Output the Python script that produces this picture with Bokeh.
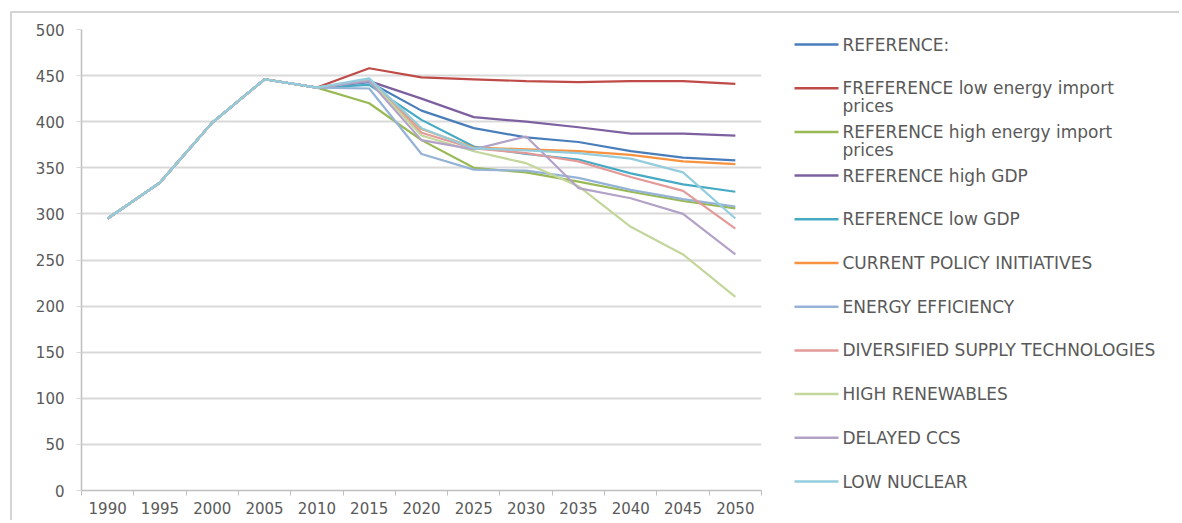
from bokeh.plotting import figure
from bokeh.models import Range1d, FixedTicker
from bokeh.layouts import row
from bokeh.embed import file_html
from bokeh.resources import INLINE
from bokeh.core.properties import value

# ---------------- data ----------------
years = [1990, 1995, 2000, 2005, 2010, 2015, 2020, 2025, 2030, 2035, 2040, 2045, 2050]
y_ticks = [0, 50, 100, 150, 200, 250, 300, 350, 400, 450, 500]

labels = [
    "REFERENCE:",
    "FREFERENCE low energy import\nprices",
    "REFERENCE high energy import\nprices",
    "REFERENCE high GDP",
    "REFERENCE low GDP",
    "CURRENT POLICY INITIATIVES",
    "ENERGY EFFICIENCY",
    "DIVERSIFIED SUPPLY TECHNOLOGIES",
    "HIGH RENEWABLES",
    "DELAYED CCS",
    "LOW NUCLEAR",
]

reference      = [295, 334, 399, 446, 437, 443, 412, 393, 383, 378, 368, 361, 358]
low_import     = [295, 334, 399, 446, 437, 458, 448, 446, 444, 443, 444, 444, 441]
high_import    = [295, 334, 399, 446, 437, 420, 380, 350, 345, 335, 324, 314, 306]
high_gdp       = [295, 334, 399, 446, 437, 444, 425, 405, 400, 394, 387, 387, 385]
low_gdp        = [295, 334, 399, 446, 437, 440, 402, 373, 365, 359, 344, 332, 324]
current_policy = [295, 334, 399, 446, 437, 445, 392, 372, 370, 368, 364, 357, 354]
energy_eff     = [295, 334, 399, 446, 437, 436, 365, 348, 347, 339, 326, 316, 308]
diversified    = [295, 334, 399, 446, 437, 445, 388, 371, 366, 357, 340, 325, 284]
high_ren       = [295, 334, 399, 446, 437, 445, 385, 368, 355, 330, 286, 256, 210]
delayed_ccs    = [295, 334, 399, 446, 437, 444, 380, 370, 384, 328, 317, 300, 256]
low_nuclear    = [295, 334, 399, 446, 437, 447, 393, 371, 369, 366, 360, 345, 295]

series = [reference, low_import, high_import, high_gdp, low_gdp, current_policy,
          energy_eff, diversified, high_ren, delayed_ccs, low_nuclear]

colors = ["#4A7EBB", "#BE4B48", "#98B954", "#7D60A0", "#46AAC5", "#F69240",
          "#95B3D7", "#E39A99", "#C3D69B", "#B3A2C7", "#93CDDD"]

TEXT_COLOR = "#595959"
FONT = "DejaVu Sans"

# ---------------- main chart ----------------
p = figure(width=775, height=507, output_backend="svg", toolbar_location=None,
           x_range=Range1d(1987.5, 2052.5), y_range=Range1d(0, 500),
           min_border_left=69, min_border_right=26, min_border_top=16,
           min_border_bottom=30)
p.outline_line_color = None

p.xaxis.ticker = FixedTicker(ticks=years,
                             minor_ticks=[y - 2.5 for y in years] + [years[-1] + 2.5])
p.xaxis.major_tick_out = 0
p.xaxis.major_tick_in = 0
p.xaxis.minor_tick_out = 5
p.xaxis.minor_tick_in = 0
p.xaxis.minor_tick_line_color = "#bfbfbf"
p.xaxis.major_label_standoff = 6

p.yaxis.ticker = FixedTicker(ticks=y_ticks)
p.yaxis.major_tick_out = 5
p.yaxis.major_tick_in = 0
p.yaxis.major_tick_line_color = "#d9d9d9"
p.yaxis.minor_tick_line_color = None
p.yaxis.major_label_standoff = 12

for ax in (p.xaxis, p.yaxis):
    ax.axis_line_color = "#bfbfbf"
    ax.axis_line_width = 1.5
    ax.major_label_text_color = TEXT_COLOR
    ax.major_label_text_font = FONT
    ax.major_label_text_font_size = "15px"

p.xgrid.visible = False
p.ygrid.grid_line_color = "#d9d9d9"
p.ygrid.grid_line_width = 1.8

for vals, col in zip(series, colors):
    p.line(years, vals, line_color=col, line_width=2.2)

# ---------------- legend panel ----------------
# frame shares the main chart's vertical extent (page y 29..490)
q = figure(width=392, height=507, output_backend="svg", toolbar_location=None,
           x_range=Range1d(788, 1180), y_range=Range1d(490, 29),
           x_axis_location=None, y_axis_location=None,
           min_border_left=0, min_border_right=0, min_border_top=16,
           min_border_bottom=30)
q.outline_line_color = None
q.xgrid.visible = False
q.ygrid.visible = False

item_y = [44 + 43.7 * i for i in range(len(labels))]
q.segment(x0=[795] * len(labels), y0=item_y, x1=[839] * len(labels), y1=item_y,
          line_color=colors, line_width=2.5)

tx, ty, tt = [], [], []
for lab, yy in zip(labels, item_y):
    for k, part in enumerate(lab.split("\n")):
        tx.append(843)
        ty.append(yy + 18 * k)
        tt.append(part)
q.text(x=tx, y=ty, text=tt, text_baseline="middle", text_align="left",
       text_font=value(FONT), text_font_size="17px", text_color=TEXT_COLOR)

layout = row(p, q, styles={"border-top": "2px solid #d4d4d4",
                           "border-left": "2px solid #d4d4d4",
                           "margin-left": "10px", "margin-top": "11px"})
open("out.html", "w").write(file_html(layout, INLINE))
